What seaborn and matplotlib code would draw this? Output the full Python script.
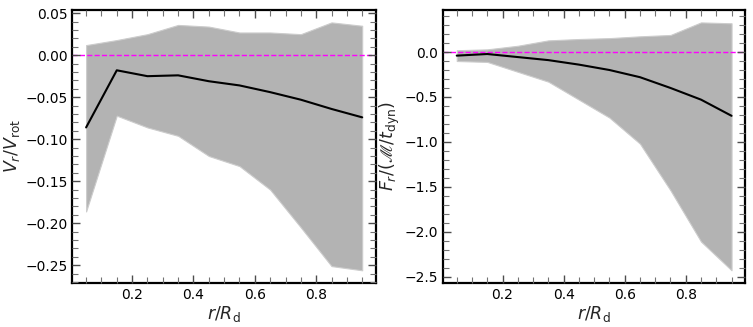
import matplotlib
matplotlib.use("Agg")
import matplotlib.pyplot as plt
from matplotlib.ticker import MultipleLocator
import seaborn as sns
import pandas as pd

# radial bins r/R_d
r_bins = [0.05, 0.15, 0.25, 0.35, 0.45, 0.55, 0.65, 0.75, 0.85, 0.95]

# left panel: V_r / V_rot
vr_mean = [-0.086, -0.018, -0.025, -0.024, -0.031, -0.036, -0.044, -0.053, -0.064, -0.074]
vr_upper = [0.012, 0.018, 0.025, 0.036, 0.034, 0.027, 0.027, 0.025, 0.039, 0.035]
vr_lower = [-0.186, -0.072, -0.086, -0.096, -0.120, -0.132, -0.160, -0.205, -0.251, -0.256]

# right panel: F_r / (M / t_dyn)
fr_mean = [-0.04, -0.022, -0.056, -0.09, -0.14, -0.20, -0.28, -0.40, -0.53, -0.71]
fr_upper = [0.02, 0.03, 0.07, 0.13, 0.145, 0.155, 0.175, 0.19, 0.33, 0.32]
fr_lower = [-0.10, -0.11, -0.22, -0.33, -0.53, -0.73, -1.02, -1.54, -2.11, -2.43]

sns.set_style("ticks")
plt.rcParams['font.family'] = ['DejaVu Sans']
plt.rcParams['mathtext.fontset'] = 'dejavusans'
plt.rcParams['axes.axisbelow'] = False

fig = plt.figure(figsize=(7.53, 3.27), dpi=100)
ax1 = fig.add_axes([72.3 / 753, 44.3 / 327, 303.7 / 753, 272.7 / 327])
ax2 = fig.add_axes([443 / 753, 44.3 / 327, 302.3 / 753, 272.7 / 327])


def draw_panel(ax, mean, lower, upper, ylabel, ymajor, yminor):
    df = pd.DataFrame({'r': r_bins, 'mean': mean, 'lo': lower, 'hi': upper})
    ax.fill_between(df['r'], df['lo'], df['hi'], color='0.70', linewidth=0.8,
                    edgecolor='0.80', zorder=1)
    sns.lineplot(data=df, x='r', y='mean', color='black', linewidth=1.5, ax=ax, zorder=3)
    ax.axhline(0, color='magenta', linestyle='--', linewidth=1.0, zorder=2)
    ax.set_xlabel(r'$r/R_{\rm d}$', fontsize=12.5, labelpad=2)
    ax.set_ylabel(ylabel, fontsize=12.5, labelpad=2)
    ax.xaxis.set_major_locator(MultipleLocator(0.2))
    ax.xaxis.set_minor_locator(MultipleLocator(0.05))
    ax.yaxis.set_major_locator(MultipleLocator(ymajor))
    ax.yaxis.set_minor_locator(MultipleLocator(yminor))
    ax.tick_params(which='both', direction='in', top=True, right=True,
                   bottom=True, left=True, labelsize=10, colors='black')
    ax.tick_params(which='major', length=6, width=1.0, color='0.3')
    ax.tick_params(which='minor', length=4, width=0.8, color='0.45')
    for s in ax.spines.values():
        s.set_visible(True)
        s.set_linewidth(1.6)
        s.set_color('black')
    ax.margins(x=0.05, y=0.05)


draw_panel(ax1, vr_mean, vr_lower, vr_upper, r'$V_r/V_{\rm rot}$', 0.05, 0.01)
draw_panel(ax2, fr_mean, fr_lower, fr_upper, r'$F_r/(\mathscr{M}/t_{\rm dyn})$', 0.5, 0.1)

fig.savefig('out.png', dpi=100)
